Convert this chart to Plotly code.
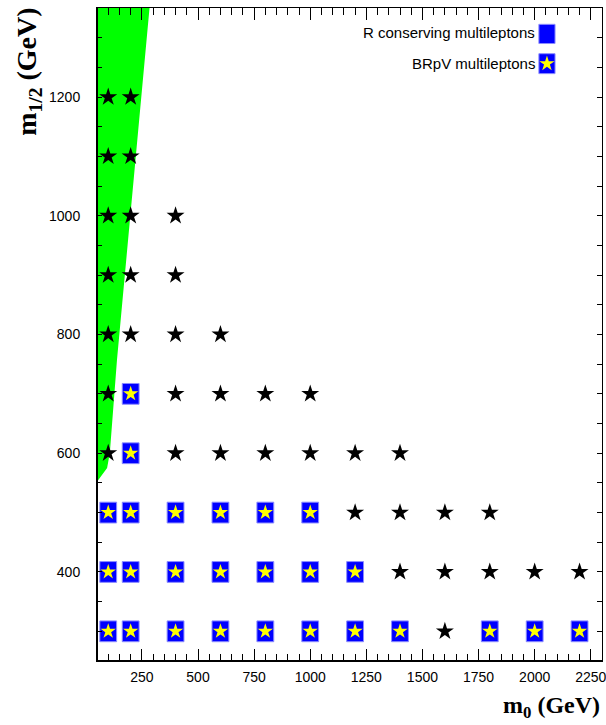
import plotly.graph_objects as go

# Scan points (m0, m1/2) in GeV
# points with both R-conserving and BRpV multilepton signals
brpv_m0 = [200, 200,
           100, 200, 400, 600, 800, 1000,
           100, 200, 400, 600, 800, 1000, 1200,
           100, 200, 400, 600, 800, 1000, 1200, 1400, 1800, 2000, 2200]
brpv_m12 = [700, 600,
            500, 500, 500, 500, 500, 500,
            400, 400, 400, 400, 400, 400, 400,
            300, 300, 300, 300, 300, 300, 300, 300, 300, 300, 300]

# remaining scan points (black stars)
other_m0 = [100, 200,
            100, 200,
            100, 200, 400,
            100, 200, 400,
            100, 200, 400, 600,
            100, 400, 600, 800, 1000,
            100, 400, 600, 800, 1000, 1200, 1400,
            1200, 1400, 1600, 1800,
            1400, 1600, 1800, 2000, 2200,
            1600]
other_m12 = [1200, 1200,
             1100, 1100,
             1000, 1000, 1000,
             900, 900, 900,
             800, 800, 800, 800,
             700, 700, 700, 700, 700,
             600, 600, 600, 600, 600, 600, 600,
             500, 500, 500, 500,
             400, 400, 400, 400, 400,
             300]

# excluded region boundary (green)
excl_m0 = [50, 284, 139, 107, 95, 50]
excl_m12 = [1350, 1350, 757, 600, 575, 552]

x_range = [50, 2300]
y_range = [250, 1350]

BLUE = "#0000ff"
BLUE_EDGE = "#8c8cff"
YELLOW = "#ffff00"
GREEN = "#00ff00"

box_w = 75   # GeV along m0
box_h = 35   # GeV along m1/2

fig = go.Figure()

fig.add_trace(go.Scatter(
    x=excl_m0, y=excl_m12, mode="lines", fill="toself",
    fillcolor=GREEN, line=dict(width=0, color=GREEN),
    hoverinfo="skip", showlegend=False))

fig.add_trace(go.Bar(
    x=brpv_m0, y=[box_h] * len(brpv_m0),
    base=[v - box_h / 2 for v in brpv_m12],
    width=box_w, marker=dict(color=BLUE, line=dict(color=BLUE_EDGE, width=1)),
    showlegend=False, hoverinfo="skip"))

fig.add_trace(go.Scatter(
    x=brpv_m0, y=brpv_m12, mode="markers",
    marker=dict(symbol="star", size=11.5, color=YELLOW, line=dict(width=0)),
    showlegend=False))

fig.add_trace(go.Scatter(
    x=other_m0, y=other_m12, mode="markers",
    marker=dict(symbol="star", size=13.5, color="black", line=dict(width=0)),
    showlegend=False))

# legend key marker on an overlay axis spanning the plot area
fig.add_trace(go.Scatter(
    x=[0.891], y=[0.9148], xaxis="x2", yaxis="y2", mode="markers",
    marker=dict(symbol="star", size=11.5, color=YELLOW, line=dict(width=0)),
    showlegend=False, hoverinfo="skip"))

tick_font = dict(family="Liberation Sans, Arial, sans-serif", size=14, color="black")
xtitle_font = dict(family="Liberation Serif, Times New Roman, serif", size=24, color="black")
ytitle_font = dict(family="Liberation Serif, Times New Roman, serif", size=28, color="black")

fig.update_layout(
    width=606, height=725,
    margin=dict(l=97, r=4, t=8, b=64, autoexpand=False),
    paper_bgcolor="white", plot_bgcolor="white",
    showlegend=False,
    barmode="overlay",
    xaxis=dict(
        range=x_range, showgrid=False, zeroline=False, automargin=False,
        tick0=0, dtick=250, ticks="inside", ticklen=12, tickwidth=1, tickcolor="black",
        minor=dict(dtick=50, tick0=0, ticks="inside", ticklen=7, tickwidth=1, tickcolor="black"),
        showline=True, linecolor="black", linewidth=1, mirror="ticks",
        tickfont=tick_font, ticklabelstandoff=3, ticklabeloverflow="allow"),
    yaxis=dict(
        range=y_range, showgrid=False, zeroline=False, automargin=False,
        tick0=0, dtick=200, ticks="inside", ticklen=5, tickwidth=1, tickcolor="black",
        minor=dict(dtick=50, tick0=0, ticks="inside", ticklen=5, tickwidth=1, tickcolor="black"),
        showline=True, linecolor="black", linewidth=1, mirror="ticks",
        tickfont=tick_font, ticklabelstandoff=13),
    xaxis2=dict(range=[0, 1], overlaying="x", visible=False, fixedrange=True),
    yaxis2=dict(range=[0, 1], overlaying="y", visible=False, fixedrange=True),
)

# heavier left and bottom frame lines
fig.add_shape(type="line", xref="paper", yref="paper", x0=0, x1=0, y0=0, y1=1,
              line=dict(color="black", width=2), layer="above")
fig.add_shape(type="line", xref="paper", yref="paper", x0=0, x1=1, y0=0, y1=0,
              line=dict(color="black", width=2), layer="above")

# legend boxes
fig.add_shape(type="rect", xref="paper", yref="paper", x0=0.875, x1=0.907, y0=0.9456, y1=0.975,
              fillcolor=BLUE, line=dict(color=BLUE_EDGE, width=1), layer="below")
fig.add_shape(type="rect", xref="paper", yref="paper", x0=0.875, x1=0.907, y0=0.8995, y1=0.930,
              fillcolor=BLUE, line=dict(color=BLUE_EDGE, width=1), layer="below")

legend_font = dict(family="Liberation Sans, Arial, sans-serif", size=15, color="black")
fig.add_annotation(text="R conserving multileptons", xref="paper", yref="paper",
                   x=0.871, y=0.9624, xanchor="right", yanchor="middle",
                   showarrow=False, font=legend_font)
fig.add_annotation(text="BRpV multileptons", xref="paper", yref="paper",
                   x=0.871, y=0.915, xanchor="right", yanchor="middle",
                   showarrow=False, font=legend_font)

# axis titles
fig.add_annotation(text="<b>m<sub>1/2</sub> (GeV)</b>", xref="paper", yref="paper",
                   x=-0.137, y=1.003, xanchor="center", yanchor="top", textangle=-90,
                   showarrow=False, font=ytitle_font)
fig.add_annotation(text="<b>m<sub>0</sub> (GeV)</b>", xref="paper", yref="paper",
                   x=1.0, y=-0.044, xanchor="right", yanchor="top",
                   showarrow=False, font=xtitle_font)

fig.write_html("out.html")
